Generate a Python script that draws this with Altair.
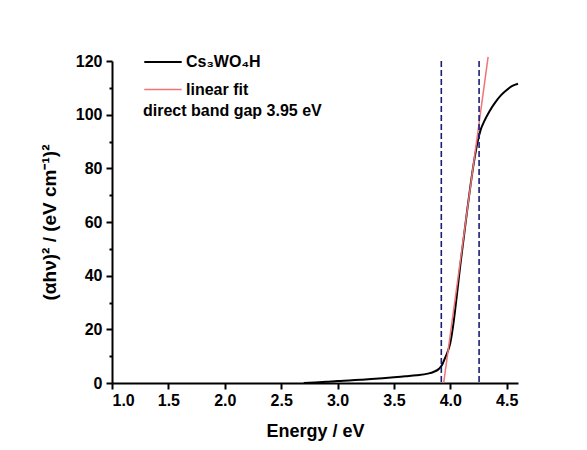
import altair as alt
import pandas as pd

# Measured curve Cs3WO4H
energy = [2.70, 2.80, 2.90, 3.00, 3.10, 3.20, 3.30, 3.40, 3.50, 3.60, 3.70, 3.80,
          3.85, 3.90, 3.93, 3.95, 3.97, 4.00, 4.03, 4.06, 4.09, 4.12, 4.15, 4.18,
          4.21, 4.24, 4.27, 4.30, 4.35, 4.40, 4.45, 4.50, 4.55, 4.60]
signal = [0.0, 0.2, 0.45, 0.75, 0.95, 1.2, 1.45, 1.75, 2.1, 2.5, 2.9, 3.5,
          4.1, 5.3, 7.0, 9.0, 11.0, 15.0, 23.0, 33.5, 44.5, 54.5, 64.5, 74.0,
          82.5, 89.5, 94.5, 97.5, 101.5, 104.7, 107.3, 109.2, 110.7, 111.5]

# Linear fit end points
fit_x = [3.941, 4.335]
fit_y = [0.0, 121.5]

# Dashed guide lines
guide_x = [3.92, 4.255]

series_names = ["Cs\u2083WO\u2084H", "linear fit"]
series_colors = ["#000000", "#f07575"]

x_ticks = [1.0, 1.25, 1.5, 1.75, 2.0, 2.25, 2.5, 2.75, 3.0, 3.25, 3.5, 3.75, 4.0, 4.25, 4.5]
y_ticks = [0, 10, 20, 30, 40, 50, 60, 70, 80, 90, 100, 110, 120]

df = pd.concat([
    pd.DataFrame({"E": energy, "Y": signal, "series": series_names[0], "order": range(len(energy))}),
    pd.DataFrame({"E": fit_x, "Y": fit_y, "series": series_names[1], "order": range(len(fit_x))}),
])
gdf = pd.DataFrame({"E": guide_x})

xscale = alt.Scale(domain=[1.0, 4.6], nice=False, zero=False)
yscale = alt.Scale(domain=[0, 120], nice=False, zero=False)

font = "Liberation Sans"
x_minor_test = "abs(datum.value*2 - round(datum.value*2)) > 0.01"
y_minor_test = "datum.value % 20 != 0"

lines = alt.Chart(df).mark_line(interpolate="monotone").encode(
    x=alt.X("E:Q", scale=xscale,
            axis=alt.Axis(values=x_ticks, title="Energy / eV",
                          labelExpr=f"({x_minor_test}) ? '' : format(datum.value, '.1f')",
                          tickSize={"condition": {"test": x_minor_test, "value": 3}, "value": 6},
                          titleFontSize=18, titlePadding=14, labelFontSize=16,
                          labelPadding=3)),
    y=alt.Y("Y:Q", scale=yscale,
            axis=alt.Axis(values=y_ticks, title="(\u03b1h\u03bd)\u00b2 / (eV cm\u207b\u00b9)\u00b2",
                          labelExpr=f"({y_minor_test}) ? '' : format(datum.value, 'd')",
                          tickSize={"condition": {"test": y_minor_test, "value": 3}, "value": 6},
                          titleFontSize=19, titlePadding=16, labelFontSize=16,
                          labelPadding=4)),
    color=alt.Color("series:N",
                    scale=alt.Scale(domain=series_names, range=series_colors),
                    legend=alt.Legend(orient="none", legendX=31, legendY=-19,
                                      title="direct band gap 3.95 eV",
                                      titleOrient="bottom", titleFontSize=16,
                                      titleFont=font, titleFontWeight="bold",
                                      titleAnchor="start", titlePadding=5,
                                      labelFontSize=16, labelFont=font,
                                      labelFontWeight="bold",
                                      symbolType="stroke", symbolSize=1400,
                                      symbolStrokeWidth=2, rowPadding=-2,
                                      labelOffset=3)),
    strokeWidth=alt.StrokeWidth("series:N",
                                scale=alt.Scale(domain=series_names, range=[2, 1.5]),
                                legend=None),
    order="order:Q",
)

guides = alt.Chart(gdf).mark_rule(color="#1c1c7a", strokeDash=[6, 3], strokeWidth=1.6).encode(
    x=alt.X("E:Q", scale=xscale),
)

chart = alt.layer(lines, guides).properties(
    width=406, height=322,
    autosize=alt.AutoSizeParams(type="none"),
    padding={"left": 112, "top": 61, "right": 69, "bottom": 67},
    background="white",
).configure_axis(
    grid=False, domainColor="black", domainWidth=2, tickColor="black", tickWidth=2,
    labelFont=font, titleFont=font, labelFontWeight="bold", titleFontWeight="bold",
    labelColor="black", titleColor="black",
).configure_view(stroke=None)

chart.save("out.html", embed_options={"renderer": "svg", "actions": False})
